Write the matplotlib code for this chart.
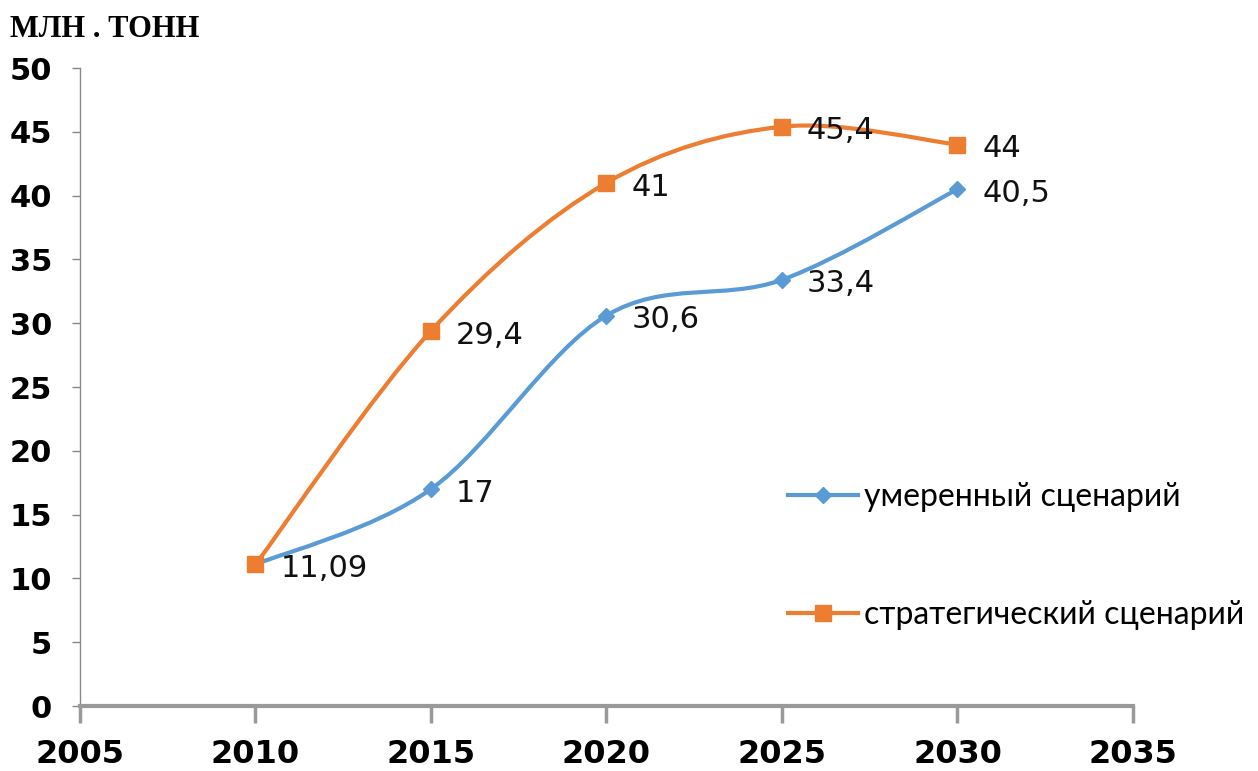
import numpy as np
import matplotlib.pyplot as plt
from matplotlib.path import Path
from matplotlib.patches import PathPatch

years = [2010, 2015, 2020, 2025, 2030]
moderate = [11.09, 17, 30.6, 33.4, 40.5]
strategic = [11.09, 29.4, 41, 45.4, 44]
moderate_labels = ['11,09', '17', '30,6', '33,4', '40,5']
strategic_labels = ['', '29,4', '41', '45,4', '44']
xticks = [2005, 2010, 2015, 2020, 2025, 2030, 2035]
yticks = [0, 5, 10, 15, 20, 25, 30, 35, 40, 45, 50]

BLUE = '#5B9BD5'
ORANGE = '#ED7D31'


def smooth_path(xs, ys, k=1/6):
    # Excel-like smoothed line: catmull-rom as cubic bezier segments
    xs = list(xs); ys = list(ys)
    n = len(xs)
    verts = [(xs[0], ys[0])]
    codes = [Path.MOVETO]
    for i in range(n - 1):
        p0 = (xs[max(i - 1, 0)], ys[max(i - 1, 0)])
        p1 = (xs[i], ys[i])
        p2 = (xs[i + 1], ys[i + 1])
        p3 = (xs[min(i + 2, n - 1)], ys[min(i + 2, n - 1)])
        c1 = (p1[0] + (p2[0] - p0[0]) * k, p1[1] + (p2[1] - p0[1]) * k)
        c2 = (p2[0] - (p3[0] - p1[0]) * k, p2[1] - (p3[1] - p1[1]) * k)
        verts += [c1, c2, p2]
        codes += [Path.CURVE4] * 3
    return Path(verts, codes)


fig = plt.figure(figsize=(12.58, 7.71), dpi=100)
ax = fig.add_axes([0.0636, 0.0843, 0.837, 0.8275])

for ys, col, mk, ms, lab, texts in [
        (moderate, BLUE, 'D', 8, 'умеренный сценарий', moderate_labels),
        (strategic, ORANGE, 's', 11, 'стратегический сценарий', strategic_labels)]:
    ax.add_patch(PathPatch(smooth_path(years, ys), facecolor='none',
                           edgecolor=col, lw=3, capstyle='round', zorder=2))
    ax.plot(years, ys, ls='none', marker=mk, ms=ms, color=col, zorder=3)
    ax.plot([], [], color=col, lw=3, marker=mk, ms=ms, label=lab)
    for x, y, t in zip(years, ys, texts):
        if t:
            ax.annotate(t, (x, y), xytext=(18, -3), textcoords='offset points',
                        ha='left', va='center', fontsize=22, color='#111111')

ax.set_xlim(2005, 2035)
ax.set_ylim(0, 50)
ax.set_xticks(xticks)
ax.set_yticks(yticks)
for s in ['top', 'right']:
    ax.spines[s].set_visible(False)
ax.spines['left'].set_color('#888888')
ax.spines['left'].set_linewidth(1)
ax.spines['bottom'].set_color('#999999')
ax.spines['bottom'].set_linewidth(3)
ax.tick_params(axis='x', length=12, width=2.5, color='#999999', pad=12,
               labelsize=23)
ax.tick_params(axis='y', length=6, width=1, color='#888888', pad=14,
               labelsize=22)
for t in ax.get_xticklabels() + ax.get_yticklabels():
    t.set_fontweight('bold')

fig.text(0.008, 0.962, 'МЛН . ТОНН', fontsize=22, fontweight='bold',
         family='Liberation Serif', va='center', ha='left')

ax.legend(loc='center left', bbox_to_anchor=(0.66, 0.235), frameon=False,
          prop={'family': 'Lato', 'size': 23}, labelspacing=2.75,
          handlelength=2.2, handletextpad=0.2, borderaxespad=0)

fig.savefig('out.png', dpi=100)
